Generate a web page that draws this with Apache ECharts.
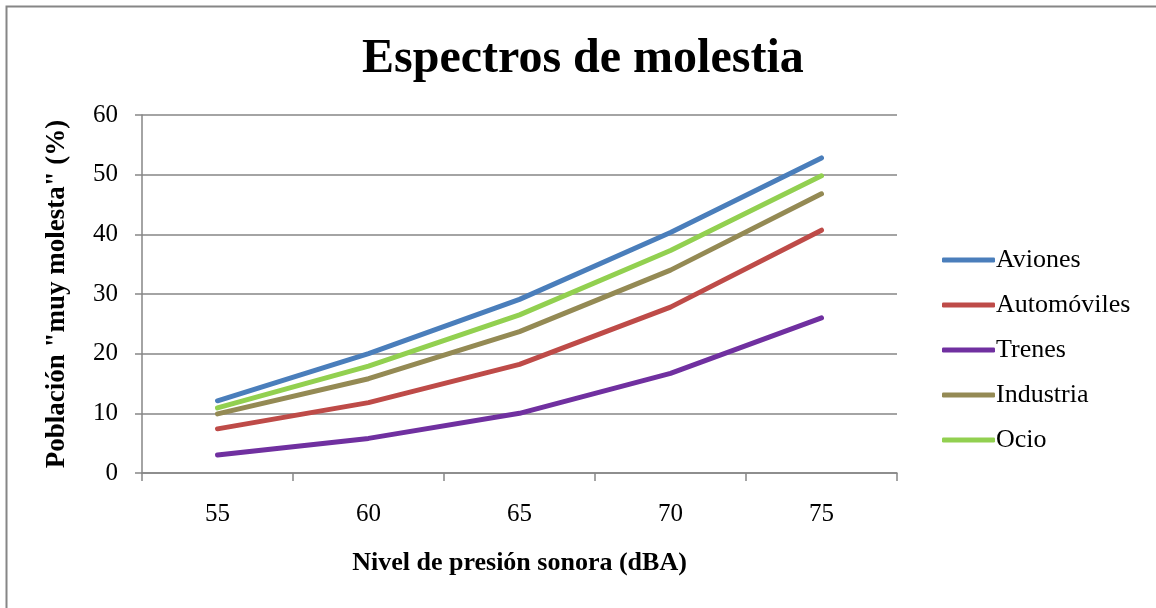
<!DOCTYPE html>
<html><head><meta charset="utf-8">
<script src="https://cdn.jsdelivr.net/npm/echarts@6/dist/echarts.min.js"></script>
<style>html,body{margin:0;padding:0;background:#fff}#c{width:1156px;height:608px}</style>
</head><body><div id="c"></div>
<script>
const categories = ['55', '60', '65', '70', '75'];
const aviones = [12.1, 20.0, 29.1, 40.3, 52.8];
const automoviles = [7.4, 11.8, 18.2, 27.8, 40.7];
const trenes = [3.0, 5.8, 10.0, 16.7, 26.0];
const industria = [9.9, 15.8, 23.7, 34.0, 46.8];
const ocio = [10.9, 17.9, 26.5, 37.3, 49.8];
const yTicks = [0, 10, 20, 30, 40, 50, 60];

const serif = '"Liberation Serif", "DejaVu Serif", serif';
const grey = '#868686';
const chart = echarts.init(document.getElementById('c'));
function mk(name, data, color) {
  return { name, type: 'line', data, showSymbol: false, symbol: 'none',
    lineStyle: { width: 5, color, cap: 'round' }, itemStyle: { color }, animation: false };
}
chart.setOption({
  animation: false,
  graphic: [{ type: 'rect', shape: { x: 6.5, y: 6.5, width: 1160, height: 620 },
    style: { fill: 'none', stroke: grey, lineWidth: 2 }, z: -1 }],
  title: { text: 'Espectros de molestia', left: 357, top: 31,
    textStyle: { fontFamily: serif, fontSize: 48, fontWeight: 'bold', color: '#000' } },
  grid: { left: 142, right: 259, top: 115, bottom: 135, containLabel: false },
  legend: { orient: 'vertical', left: 937, top: 242, itemWidth: 53, itemHeight: 5, itemGap: 19,
    icon: 'roundRect',
    textStyle: { fontFamily: serif, fontSize: 26, color: '#000', lineHeight: 26, padding: [0, 0, 0, -4] },
    data: ['Aviones', 'Automóviles', 'Trenes', 'Industria', 'Ocio'] },
  xAxis: { type: 'category', data: categories, boundaryGap: true,
    name: 'Nivel de presión sonora (dBA)', nameLocation: 'middle', nameGap: 77,
    nameTextStyle: { fontFamily: serif, fontSize: 26, fontWeight: 'bold', color: '#000' },
    axisLine: { lineStyle: { color: grey, width: 1.5 } },
    axisTick: { show: true, length: 8, lineStyle: { color: grey, width: 1.5 } },
    axisLabel: { fontFamily: serif, fontSize: 25, color: '#000', margin: 29 } },
  yAxis: { type: 'value', min: 0, max: 60, interval: 10,
    name: 'Población "muy molesta" (%)', nameLocation: 'middle', nameGap: 71, nameRotate: 90,
    nameTextStyle: { fontFamily: serif, fontSize: 27, fontWeight: 'bold', color: '#000' },
    axisLine: { show: true, lineStyle: { color: grey, width: 1.5 } },
    axisTick: { show: true, length: 7, lineStyle: { color: grey, width: 1.5 } },
    splitLine: { lineStyle: { color: grey, width: 1.5 } },
    axisLabel: { fontFamily: serif, fontSize: 25, color: '#000', margin: 24,
      formatter: v => yTicks.includes(v) ? String(v) : '' } },
  series: [
    mk('Aviones', aviones, '#4A7EBB'),
    mk('Automóviles', automoviles, '#BE4B48'),
    mk('Trenes', trenes, '#7030A0'),
    mk('Industria', industria, '#948A54'),
    mk('Ocio', ocio, '#92D050')
  ]
});
</script></body></html>
